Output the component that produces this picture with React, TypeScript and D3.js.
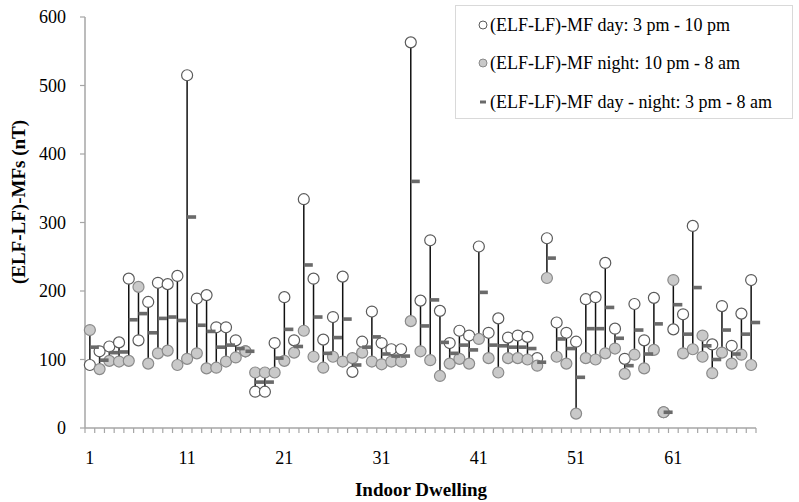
import React from "react";
import * as d3 from "d3";

const dwellings: number[] = Array.from({ length: 69 }, (_, i) => i + 1);

const dayValues: number[] = [
  92, 112, 119, 125, 218, 128, 184, 212, 210, 222,
  515, 189, 194, 147, 147, 128, 112, 53, 53, 124,
  191, 128, 334, 218, 129, 162, 221, 82, 126, 170,
  124, 115, 115, 563, 186, 274, 171, 124, 142, 135,
  265, 139, 160, 132, 135, 133, 102, 277, 154, 139,
  126, 188, 191, 241, 145, 101, 181, 128, 190, 23,
  144, 166, 295, 104, 122, 178, 120, 167, 216,
];

const nightValues: number[] = [
  143, 86, 98, 97, 98, 206, 94, 109, 113, 92,
  101, 109, 87, 88, 97, 103, 112, 81, 81, 81,
  98, 110, 142, 104, 88, 104, 97, 102, 110, 97,
  93, 97, 97, 156, 112, 99, 76, 94, 101, 94,
  130, 102, 81, 102, 102, 100, 91, 219, 104, 94,
  21, 102, 100, 109, 116, 79, 107, 87, 114, 23,
  216, 109, 115, 135, 80, 110, 94, 107, 92,
];

const dayNightValues: number[] = [
  118, 99, 110, 111, 158, 167, 139, 160, 162, 157,
  308, 150, 141, 118, 121, 116, 112, 67, 67, 102,
  144, 119, 238, 162, 109, 132, 159, 92, 118, 133,
  108, 105, 105, 360, 149, 187, 125, 109, 121, 114,
  198, 121, 120, 118, 118, 116, 96, 248, 130, 116,
  74, 145, 145, 176, 131, 91, 143, 108, 152, 23,
  180, 137, 205, 120, 100, 143, 108, 137, 154,
];

const xTickLabels: number[] = [1, 11, 21, 31, 41, 51, 61];
const yTicks: number[] = [0, 100, 200, 300, 400, 500, 600];
const dayFilled: number[] = [64];

const legendLabels: string[] = [
  "(ELF-LF)-MF day: 3 pm - 10 pm",
  "(ELF-LF)-MF night: 10 pm - 8 am",
  "(ELF-LF)-MF day - night: 3 pm - 8 am",
];

const FONT = "'Liberation Serif', 'Times New Roman', Times, serif";
const AXIS = "#a6a6a6";
const OPEN_STROKE = "#5a5a5a";
const GRAY_FILL = "#c9c9c9";
const GRAY_STROKE = "#8a8a8a";
const DASH = "#6a6a6a";

export default function App() {
  const W = 799;
  const H = 502;
  const left = 85;
  const right = 756;
  const top = 17;
  const bottom = 428;

  const x = d3
    .scaleBand<number>()
    .domain(dwellings)
    .range([left, right])
    .padding(0);
  const bw = x.bandwidth();
  const cx = (d: number) => (x(d) as number) + bw / 2;
  const y = d3.scaleLinear().domain([0, 600]).range([bottom, top]);

  const r = 5.5;

  return (
    <svg
      width={W}
      height={H}
      style={{ position: "absolute", left: 0, top: 0, background: "#fff" }}
      fontFamily={FONT}
    >
      <rect x={0} y={0} width={W} height={H} fill="#fff" />

      {/* Y axis */}
      <line x1={left} x2={left} y1={top} y2={bottom} stroke={AXIS} strokeWidth={1.5} />
      {yTicks.map((t) => (
        <g key={"yt" + t}>
          <line x1={left - 5} x2={left} y1={y(t)} y2={y(t)} stroke={AXIS} strokeWidth={1.2} />
          <text
            x={66}
            y={y(t)}
            textAnchor="end"
            dominantBaseline="central"
            fontSize={18}
            fill="#000"
          >
            {t}
          </text>
        </g>
      ))}

      {/* X axis */}
      <line x1={left} x2={right} y1={bottom} y2={bottom} stroke={AXIS} strokeWidth={1.5} />
      {[...dwellings, dwellings.length + 1].map((d) => {
        const xx = d <= dwellings.length ? (x(d) as number) : right;
        return (
          <line
            key={"xt" + d}
            x1={xx}
            x2={xx}
            y1={bottom}
            y2={bottom + 5}
            stroke={AXIS}
            strokeWidth={1.2}
          />
        );
      })}
      {xTickLabels.map((t) => (
        <text
          key={"xl" + t}
          x={cx(t)}
          y={458}
          textAnchor="middle"
          dominantBaseline="central"
          fontSize={18}
          fill="#000"
        >
          {t}
        </text>
      ))}

      {/* Axis titles */}
      <text
        transform={`translate(18,202) rotate(-90)`}
        textAnchor="middle"
        dominantBaseline="central"
        fontSize={19}
        fontWeight="bold"
        fill="#000"
      >
        (ELF-LF)-MFs (nT)
      </text>
      <text
        x={421}
        y={489}
        textAnchor="middle"
        dominantBaseline="central"
        fontSize={19}
        fontWeight="bold"
        fill="#000"
      >
        Indoor Dwelling
      </text>

      {/* Vertical range lines */}
      {dwellings.map((d, i) => (
        <line
          key={"vl" + d}
          x1={cx(d)}
          x2={cx(d)}
          y1={y(dayValues[i])}
          y2={y(nightValues[i])}
          stroke="#111"
          strokeWidth={1.5}
        />
      ))}

      {/* Day markers */}
      {dwellings.map((d, i) => {
        const filled = dayFilled.includes(d);
        return (
          <circle
            key={"dm" + d}
            cx={cx(d)}
            cy={y(dayValues[i])}
            r={r}
            fill={filled ? GRAY_FILL : "#fff"}
            stroke={filled ? GRAY_STROKE : OPEN_STROKE}
            strokeWidth={1.2}
          />
        );
      })}

      {/* Night markers */}
      {dwellings.map((d, i) => (
        <circle
          key={"nm" + d}
          cx={cx(d)}
          cy={y(nightValues[i])}
          r={r}
          fill={GRAY_FILL}
          stroke={GRAY_STROKE}
          strokeWidth={1.2}
        />
      ))}

      {/* Day-night markers */}
      {dwellings.map((d, i) => (
        <rect
          key={"dn" + d}
          x={cx(d)}
          y={y(dayNightValues[i]) - 1.8}
          width={9}
          height={3.6}
          fill={DASH}
        />
      ))}

      {/* Legend */}
      <rect x={455.5} y={5.5} width={337} height={113} fill="#fff" stroke="#d9d9d9" strokeWidth={1} />
      {legendLabels.map((lab, i) => {
        const ly = [25, 63, 102][i];
        return (
          <g key={"lg" + i}>
            {i === 0 && (
              <circle cx={483} cy={ly} r={4} fill="#fff" stroke={OPEN_STROKE} strokeWidth={1} />
            )}
            {i === 1 && (
              <circle cx={483} cy={ly} r={4} fill={GRAY_FILL} stroke={GRAY_STROKE} strokeWidth={1} />
            )}
            {i === 2 && <rect x={480} y={ly - 1.5} width={6} height={3} fill={DASH} />}
            <text x={490} y={ly} dominantBaseline="central" fontSize={18} fill="#000">
              {lab}
            </text>
          </g>
        );
      })}
    </svg>
  );
}
